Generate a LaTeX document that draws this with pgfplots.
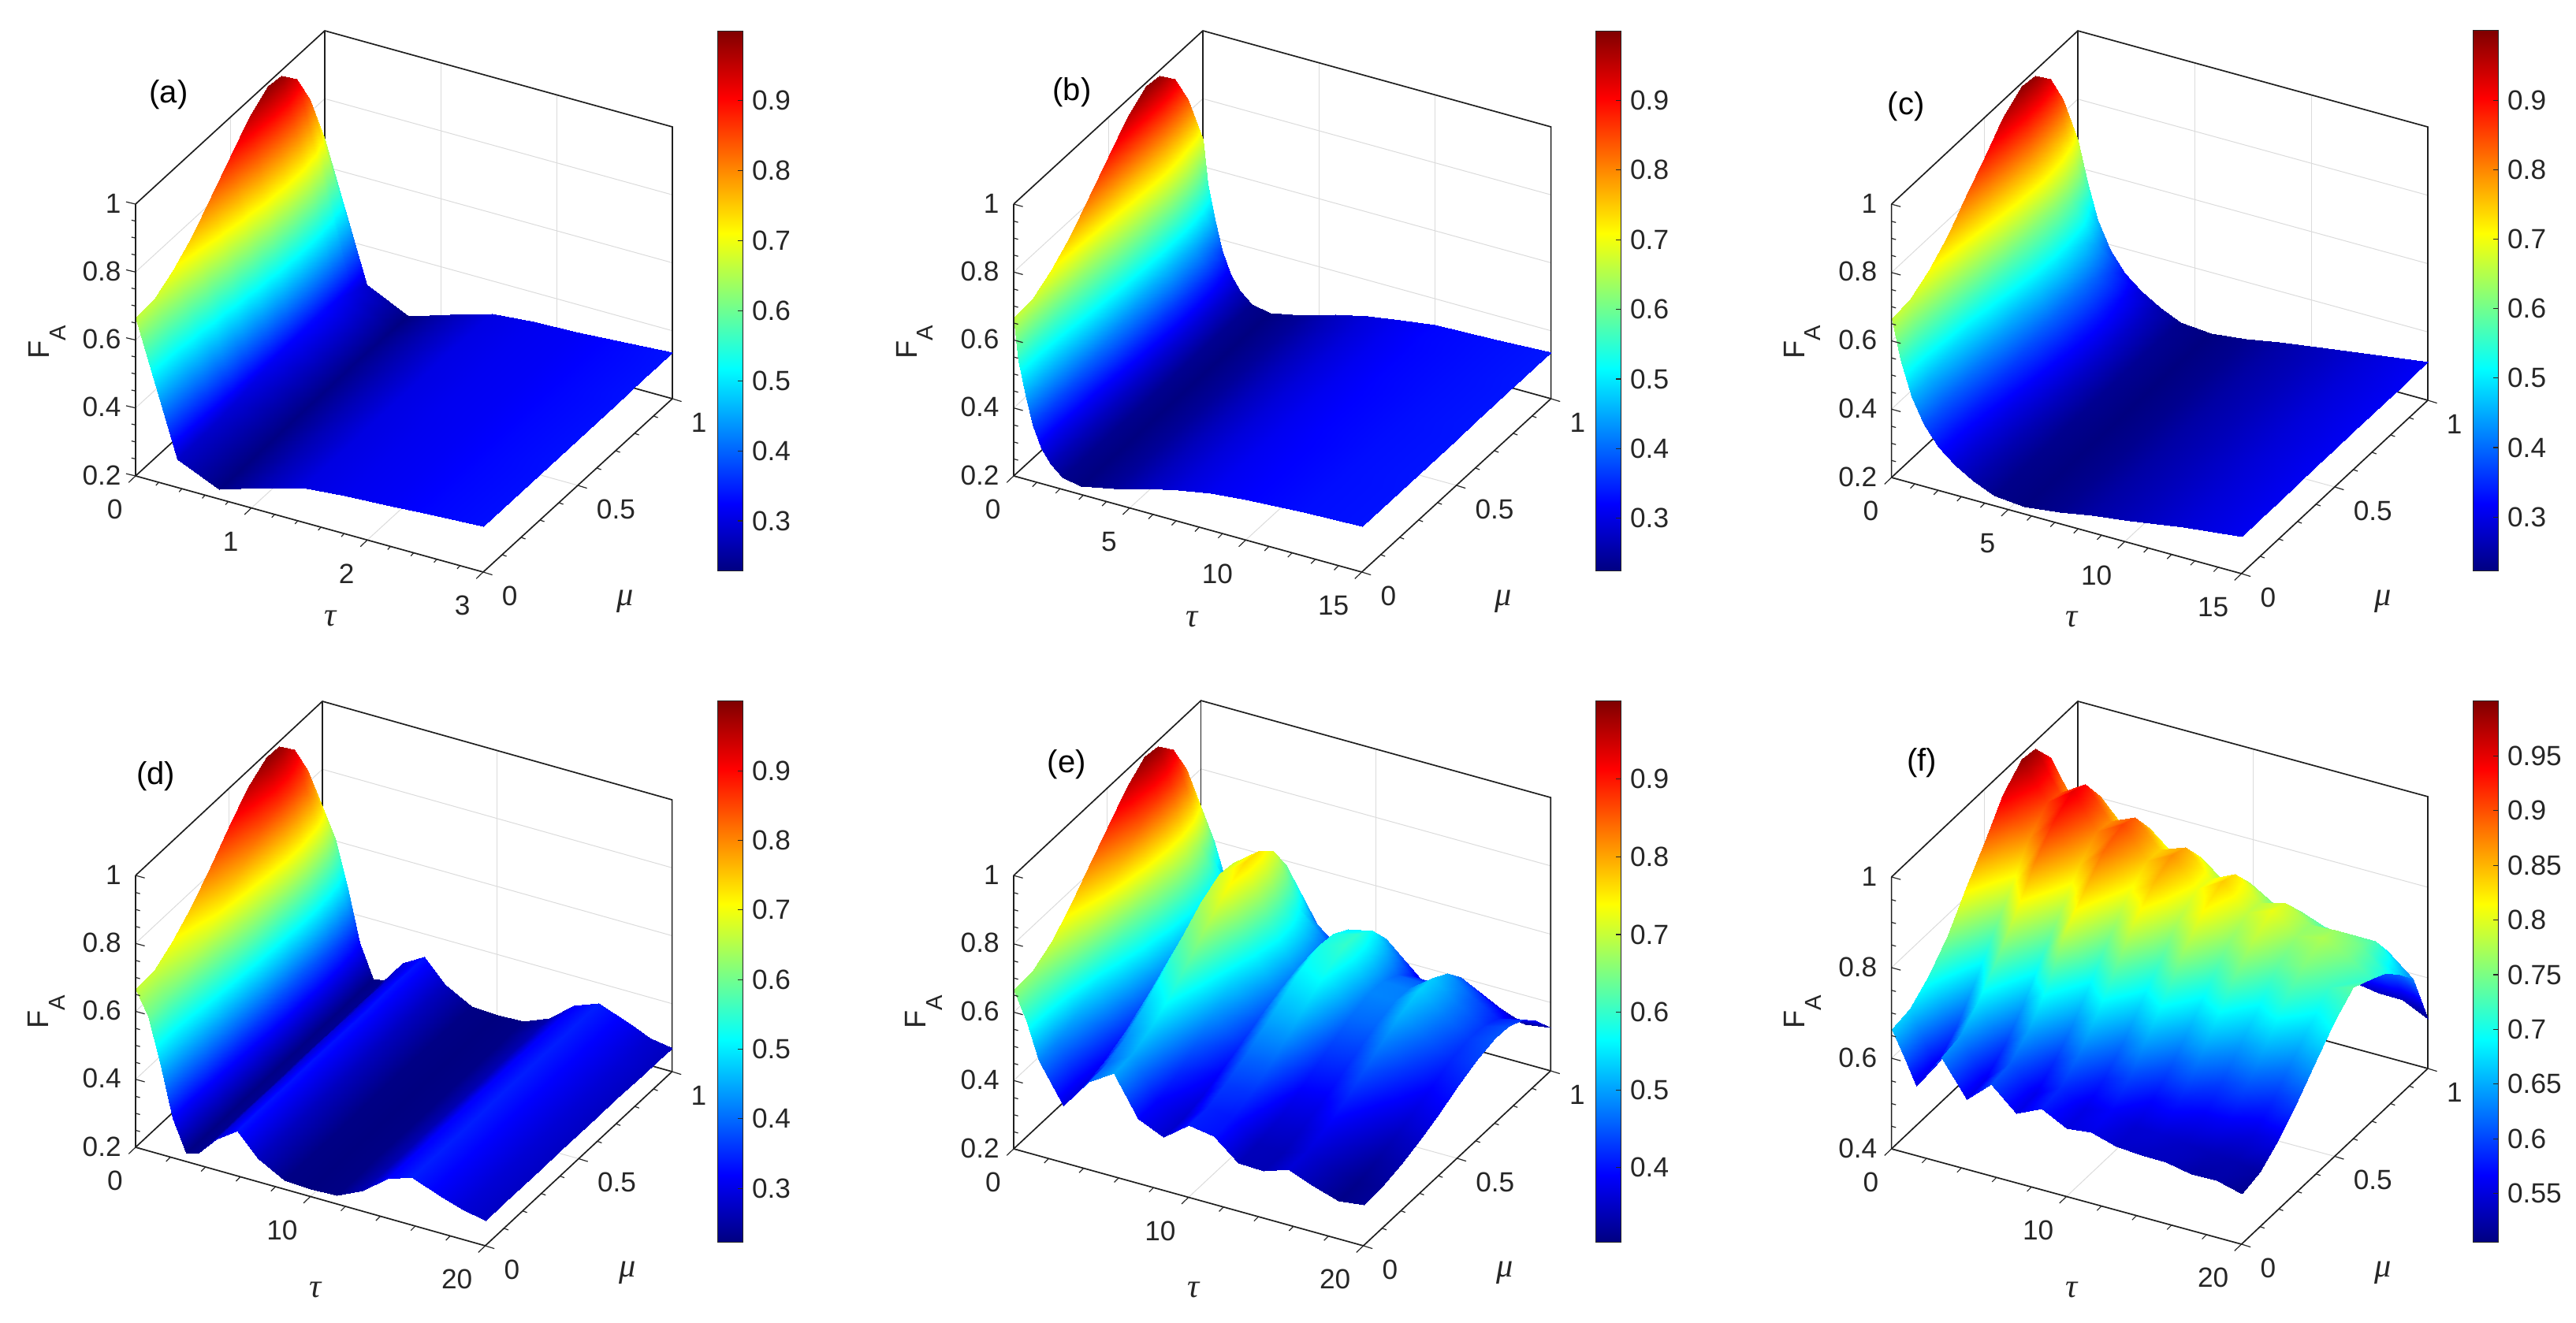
\documentclass[border=0pt]{standalone}
\usepackage{fontspec}
\setmainfont{Liberation Sans}
\newfontfamily\gk{Liberation Serif}
\usepackage{pgfplots}
\pgfplotsset{compat=1.18}
\definecolor{ink}{gray}{0.15}
\newcommand{\tauu}{{\gk\itshape τ}}
\newcommand{\muu}{{\gk\itshape μ}}
\tikzset{tk/.style={ink,line width=0.3pt},bx/.style={black!88,line width=0.42pt}}
% short tick stubs along the box edges, in the directions of the reference
\newcommand{\xt}[3]{\pgfplotsinvokeforeach{#1}{\draw[tk] (axis cs:##1,0,#2) -- ++(#3);}}
\newcommand{\yt}[4]{\pgfplotsinvokeforeach{#1}{\draw[tk] (axis cs:#2,##1,#3) -- ++(#4);}}
\newcommand{\zt}[2]{\pgfplotsinvokeforeach{#1}{\draw[tk] (axis cs:0,0,##1) -- ++(#2);}}
\newcommand{\muticks}[2]{\yt{0,0.5,1}{#1}{#2}{2.9pt,-0.9pt}\yt{0.1,0.2,0.3,0.4,0.6,0.7,0.8,0.9}{#1}{#2}{1.4pt,-0.5pt}}
% box edges: back ones go under the surface, front ones over it
\newcommand{\boxback}[2]{\draw[bx] (axis cs:0,0,1) -- (axis cs:0,1,1) -- (axis cs:#1,1,1) -- (axis cs:#1,1,#2);
  \draw[bx] (axis cs:0,1,1) -- (axis cs:0,1,#2);
  \draw[bx] (axis cs:0,0,#2) -- (axis cs:0,1,#2) -- (axis cs:#1,1,#2);}
\newcommand{\boxfront}[2]{\draw[bx] (axis cs:0,0,1) -- (axis cs:0,0,#2) -- (axis cs:#1,0,#2) -- (axis cs:#1,1,#2);}
\pgfplotsset{
  panel/.style={
    colormap/jet,
    clip=false,
    ymin=0,ymax=1,zmax=1,
    ytick={0,0.5,1},
    grid=major,
    major grid style={black!14,line width=0.25pt},
    tick align=outside,
    xtick pos=lower,ytick pos=lower,ztick pos=lower,
    major tick length=3pt,
    tick style={draw=none},
    axis line style={draw=none},
    /pgf/number format/assume math mode=true,
    tick label style={font=\fontsize{8.8}{10}\selectfont,text=ink,inner sep=0pt},
    xticklabel style={anchor=east,xshift=-1.7pt,yshift=-8.65pt},
    yticklabel style={anchor=west,xshift=2.9pt,yshift=-6.7pt},
    zticklabel style={anchor=east,xshift=-2.2pt,yshift=2.3pt},
    xlabel={\fontsize{10.6}{12}\selectfont\tauu},
    ylabel={\fontsize{10.6}{12}\selectfont\muu},
    zlabel={\fontsize{9.5}{11}\selectfont F\raisebox{-5.2pt}{\fontsize{7.3}{8}\selectfont A}},
    anchor=origin,
  },
  lab/.style n args={6}{
    every axis x label/.style={at={(rel axis cs:0,0,0)},anchor=center,text=ink,xshift=#1pt,yshift=#2pt},
    every axis y label/.style={at={(rel axis cs:0,0,0)},anchor=center,text=ink,xshift=#3pt,yshift=#4pt},
    every axis z label/.style={at={(rel axis cs:0,0,0)},anchor=center,text=ink,rotate=90,xshift=#6pt,yshift=-1*(#5)*1pt},
  },
  cbar/.style={
    colormap/jet,
    scale only axis,
    anchor=south west,
    width=8.2pt,
    view={0}{90},
    xmin=0,xmax=1,
    xtick=\empty,
    ytick pos=right,
    yticklabel pos=right,
    tick align=inside,
    major tick length=1.6pt,
    tick style={ink,line width=0.3pt},
    axis line style={black!85,line width=0.25pt},
    /pgf/number format/assume math mode=true,
    tick label style={font=\fontsize{8.8}{10}\selectfont,text=ink},
    yticklabel style={xshift=-0.7pt},
  },
  surfopt/.style={surf,shader=interp,mesh/ordering=y varies},
  barplot/.style={surf,shader=interp,point meta=y},
}
\begin{document}
\begin{tikzpicture}
\useasboundingbox (0pt,0pt) rectangle (817pt,419.75pt);

% (a)
\begin{axis}[panel,lab={61.75}{-45.25}{155.25}{-39.75}{-28}{42.5},
  at={(43pt,268.75pt)},
  x={(110.25pt/3,-30.5pt/3)},y={(60pt,55pt)},z={(0pt,107.8pt)},
  xmin=0,xmax=3,zmin=0.2,
  xtick={0,1,2,3},ztick={0.2,0.4,0.6,0.8,1},
  point meta min=0.228,point meta max=1]
\boxback{3}{0.2}
\addplot3[surfopt] coordinates {
(0,0,.665)(0,.1,.67)(0,.2,.705)(0,.3,.755)(0,.4,.82)(0,.5,.885)(0,.6,.95)(0,.7,.99)(0,.77,.985)(0,.85,.935)(0,.92,.84)(0,1,.68)

(.36,0,.282)(.36,.1,.284)(.36,.2,.288)(.36,.3,.295)(.36,.4,.305)(.36,.5,.315)(.36,.6,.325)(.36,.7,.33)(.36,.77,.33)(.36,.85,.32)(.36,.92,.305)(.36,1,.287)

(.72,0,.229)(.72,.1,.229)(.72,.2,.23)(.72,.3,.231)(.72,.4,.232)(.72,.5,.233)(.72,.6,.234)(.72,.7,.235)(.72,.77,.235)(.72,.85,.234)(.72,.92,.231)(.72,1,.228)

(1.08,0,.268)(1.08,.1,.268)(1.08,.2,.268)(1.08,.3,.269)(1.08,.4,.269)(1.08,.5,.27)(1.08,.6,.27)(1.08,.7,.27)(1.08,.77,.27)(1.08,.85,.27)(1.08,.92,.269)(1.08,1,.268)

(1.44,0,.302)(1.44,.1,.302)(1.44,.2,.302)(1.44,.3,.302)(1.44,.4,.303)(1.44,.5,.303)(1.44,.6,.303)(1.44,.7,.304)(1.44,.77,.304)(1.44,.85,.304)(1.44,.92,.303)(1.44,1,.303)

(1.8,0,.312)(1.8,.1,.312)(1.8,.2,.312)(1.8,.3,.312)(1.8,.4,.312)(1.8,.5,.313)(1.8,.6,.313)(1.8,.7,.313)(1.8,.77,.313)(1.8,.85,.313)(1.8,.92,.313)(1.8,1,.313)

(2.16,0,.318)(2.16,.1,.318)(2.16,.2,.318)(2.16,.3,.318)(2.16,.4,.318)(2.16,.5,.318)(2.16,.6,.318)(2.16,.7,.318)(2.16,.77,.318)(2.16,.85,.318)(2.16,.92,.318)(2.16,1,.318)

(2.52,0,.327)(2.52,.1,.327)(2.52,.2,.327)(2.52,.3,.327)(2.52,.4,.327)(2.52,.5,.327)(2.52,.6,.327)(2.52,.7,.327)(2.52,.77,.327)(2.52,.85,.327)(2.52,.92,.327)(2.52,1,.327)

(3,0,.334)(3,.1,.334)(3,.2,.334)(3,.3,.334)(3,.4,.335)(3,.5,.335)(3,.6,.335)(3,.7,.335)(3,.77,.336)(3,.85,.336)(3,.92,.336)(3,1,.337)
};
\boxfront{3}{0.2}
\xt{0,1,2,3}{0.2}{-2.2pt,-2.1pt}
\xt{0.2,0.4,0.6,0.8,1.2,1.4,1.6,1.8,2.2,2.4,2.6,2.8}{0.2}{-0.9pt,-1pt}
\muticks{3}{0.2}
\zt{0.2,0.4,0.6,0.8,1}{-3pt,0.7pt}
\zt{0.25,0.3,0.35,0.45,0.5,0.55,0.65,0.7,0.75,0.85,0.9,0.95}{-1.3pt,0.3pt}
\end{axis}
\begin{axis}[cbar,at={(227.5pt,238.5pt)},height=171.5pt,ymin=0.228,ymax=1,
  ytick={0.3,0.4,0.5,0.6,0.7,0.8,0.9},point meta min=0.228,point meta max=1]
\addplot3[barplot] coordinates {(0,.228,0)(1,.228,0)

(0,1,0)(1,1,0)};
\end{axis}

% (b)
\begin{axis}[panel,lab={56.6}{-45.5}{155.2}{-39.75}{-31.4}{42.5},
  at={(321.5pt,268.75pt)},
  x={(110.4pt/15,-30.5pt/15)},y={(60pt,55pt)},z={(0pt,107.8pt)},
  xmin=0,xmax=15,zmin=0.2,
  xtick={0,5,10,15},ztick={0.2,0.4,0.6,0.8,1},
  point meta min=0.224,point meta max=1]
\boxback{15}{0.2}
\addplot3[surfopt] coordinates {
(0,0,.665)(0,.1,.67)(0,.2,.705)(0,.3,.755)(0,.4,.82)(0,.5,.885)(0,.6,.95)(0,.7,.99)(0,.77,.985)(0,.85,.935)(0,.92,.84)(0,1,.68)

(.2,0,.543)(.2,.1,.547)(.2,.2,.572)(.2,.3,.608)(.2,.4,.655)(.2,.5,.702)(.2,.6,.748)(.2,.7,.777)(.2,.77,.774)(.2,.85,.738)(.2,.92,.669)(.2,1,.554)

(.5,0,.448)(.5,.1,.45)(.5,.2,.468)(.5,.3,.493)(.5,.4,.525)(.5,.5,.558)(.5,.6,.59)(.5,.7,.61)(.5,.77,.608)(.5,.85,.583)(.5,.92,.535)(.5,1,.455)

(.8,0,.365)(.8,.1,.366)(.8,.2,.377)(.8,.3,.393)(.8,.4,.413)(.8,.5,.433)(.8,.6,.453)(.8,.7,.466)(.8,.77,.464)(.8,.85,.449)(.8,.92,.419)(.8,1,.37)

(1.2,0,.304)(1.2,.1,.305)(1.2,.2,.311)(1.2,.3,.319)(1.2,.4,.33)(1.2,.5,.341)(1.2,.6,.352)(1.2,.7,.359)(1.2,.77,.358)(1.2,.85,.35)(1.2,.92,.334)(1.2,1,.307)

(1.6,0,.265)(1.6,.1,.265)(1.6,.2,.268)(1.6,.3,.272)(1.6,.4,.277)(1.6,.5,.282)(1.6,.6,.288)(1.6,.7,.291)(1.6,.77,.29)(1.6,.85,.286)(1.6,.92,.279)(1.6,1,.266)

(2.1,0,.234)(2.1,.1,.234)(2.1,.2,.235)(2.1,.3,.235)(2.1,.4,.236)(2.1,.5,.236)(2.1,.6,.237)(2.1,.7,.238)(2.1,.77,.238)(2.1,.85,.237)(2.1,.92,.236)(2.1,1,.234)

(2.9,0,.224)(2.9,.1,.224)(2.9,.2,.224)(2.9,.3,.224)(2.9,.4,.224)(2.9,.5,.224)(2.9,.6,.224)(2.9,.7,.224)(2.9,.77,.224)(2.9,.85,.224)(2.9,.92,.224)(2.9,1,.224)

(4.3,0,.243)(4.3,.1,.243)(4.3,.2,.243)(4.3,.3,.243)(4.3,.4,.243)(4.3,.5,.243)(4.3,.6,.243)(4.3,.7,.243)(4.3,.77,.243)(4.3,.85,.243)(4.3,.92,.243)(4.3,1,.243)

(5.7,0,.27)(5.7,.1,.27)(5.7,.2,.27)(5.7,.3,.27)(5.7,.4,.27)(5.7,.5,.27)(5.7,.6,.27)(5.7,.7,.27)(5.7,.77,.27)(5.7,.85,.27)(5.7,.92,.27)(5.7,1,.272)

(7.1,0,.293)(7.1,.1,.293)(7.1,.2,.293)(7.1,.3,.293)(7.1,.4,.293)(7.1,.5,.293)(7.1,.6,.293)(7.1,.7,.293)(7.1,.77,.293)(7.1,.85,.293)(7.1,.92,.293)(7.1,1,.295)

(8.5,0,.31)(8.5,.1,.31)(8.5,.2,.31)(8.5,.3,.31)(8.5,.4,.31)(8.5,.5,.31)(8.5,.6,.31)(8.5,.7,.31)(8.5,.77,.31)(8.5,.85,.31)(8.5,.92,.31)(8.5,1,.31)

(10,0,.32)(10,.1,.32)(10,.2,.32)(10,.3,.32)(10,.4,.321)(10,.5,.321)(10,.6,.321)(10,.7,.322)(10,.77,.322)(10,.85,.322)(10,.92,.323)(10,1,.323)

(12.5,0,.33)(12.5,.1,.33)(12.5,.2,.33)(12.5,.3,.33)(12.5,.4,.33)(12.5,.5,.33)(12.5,.6,.33)(12.5,.7,.33)(12.5,.77,.33)(12.5,.85,.33)(12.5,.92,.33)(12.5,1,.33)

(15,0,.334)(15,.1,.334)(15,.2,.334)(15,.3,.335)(15,.4,.335)(15,.5,.335)(15,.6,.336)(15,.7,.336)(15,.77,.336)(15,.85,.337)(15,.92,.337)(15,1,.337)
};
\boxfront{15}{0.2}
\xt{0,5,10,15}{0.2}{-2.2pt,-2.1pt}
\xt{1,2,3,4,6,7,8,9,11,12,13,14}{0.2}{-1.4pt,-1.4pt}
\muticks{15}{0.2}
\zt{0.2,0.4,0.6,0.8,1}{2.9pt,-0.8pt}
\zt{0.25,0.3,0.35,0.45,0.5,0.55,0.65,0.7,0.75,0.85,0.9,0.95}{1.4pt,-0.4pt}
\end{axis}
\begin{axis}[cbar,at={(506pt,238.5pt)},height=171.5pt,ymin=0.224,ymax=1,
  ytick={0.3,0.4,0.5,0.6,0.7,0.8,0.9},point meta min=0.224,point meta max=1]
\addplot3[barplot] coordinates {(0,.224,0)(1,.224,0)

(0,1,0)(1,1,0)};
\end{axis}

% (c)
\begin{axis}[panel,lab={57}{-45}{155.8}{-39.25}{-28.3}{43},
  at={(599.9pt,268.25pt)},
  x={(111pt/15,-30.5pt/15)},y={(59.1pt,55pt)},z={(0pt,108.4pt)},
  xmin=0,xmax=15,zmin=0.2,
  xtick={0,5,10,15},ztick={0.2,0.4,0.6,0.8,1},
  point meta min=0.222,point meta max=1]
\boxback{15}{0.2}
\addplot3[surfopt] coordinates {
(0,0,.665)(0,.1,.67)(0,.2,.705)(0,.3,.755)(0,.4,.82)(0,.5,.885)(0,.6,.95)(0,.7,.99)(0,.77,.985)(0,.85,.935)(0,.92,.84)(0,1,.68)

(.4,0,.554)(.4,.1,.558)(.4,.2,.584)(.4,.3,.621)(.4,.4,.67)(.4,.5,.719)(.4,.6,.768)(.4,.7,.798)(.4,.77,.794)(.4,.85,.756)(.4,.92,.685)(.4,1,.565)

(.85,0,.454)(.85,.1,.456)(.85,.2,.475)(.85,.3,.501)(.85,.4,.535)(.85,.5,.569)(.85,.6,.603)(.85,.7,.624)(.85,.77,.622)(.85,.85,.595)(.85,.92,.546)(.85,1,.462)

(1.4,0,.38)(1.4,.1,.382)(1.4,.2,.395)(1.4,.3,.413)(1.4,.4,.436)(1.4,.5,.459)(1.4,.6,.483)(1.4,.7,.497)(1.4,.77,.495)(1.4,.85,.477)(1.4,.92,.443)(1.4,1,.386)

(2,0,.327)(2,.1,.328)(2,.2,.336)(2,.3,.348)(2,.4,.364)(2,.5,.38)(2,.6,.395)(2,.7,.405)(2,.77,.404)(2,.85,.392)(2,.92,.369)(2,1,.33)

(2.7,0,.287)(2.7,.1,.288)(2.7,.2,.293)(2.7,.3,.3)(2.7,.4,.31)(2.7,.5,.32)(2.7,.6,.33)(2.7,.7,.336)(2.7,.77,.335)(2.7,.85,.327)(2.7,.92,.313)(2.7,1,.289)

(3.5,0,.256)(3.5,.1,.256)(3.5,.2,.259)(3.5,.3,.263)(3.5,.4,.268)(3.5,.5,.273)(3.5,.6,.278)(3.5,.7,.282)(3.5,.77,.281)(3.5,.85,.277)(3.5,.92,.27)(3.5,1,.257)

(4.4,0,.23)(4.4,.1,.23)(4.4,.2,.231)(4.4,.3,.232)(4.4,.4,.233)(4.4,.5,.235)(4.4,.6,.236)(4.4,.7,.237)(4.4,.77,.237)(4.4,.85,.236)(4.4,.92,.234)(4.4,1,.23)

(5.7,0,.222)(5.7,.1,.222)(5.7,.2,.222)(5.7,.3,.222)(5.7,.4,.222)(5.7,.5,.222)(5.7,.6,.222)(5.7,.7,.222)(5.7,.77,.222)(5.7,.85,.222)(5.7,.92,.222)(5.7,1,.222)

(7.2,0,.233)(7.2,.1,.233)(7.2,.2,.233)(7.2,.3,.233)(7.2,.4,.233)(7.2,.5,.233)(7.2,.6,.233)(7.2,.7,.233)(7.2,.77,.233)(7.2,.85,.233)(7.2,.92,.233)(7.2,1,.233)

(8.6,0,.25)(8.6,.1,.25)(8.6,.2,.25)(8.6,.3,.25)(8.6,.4,.25)(8.6,.5,.25)(8.6,.6,.25)(8.6,.7,.25)(8.6,.77,.25)(8.6,.85,.25)(8.6,.92,.25)(8.6,1,.25)

(10.2,0,.265)(10.2,.1,.265)(10.2,.2,.265)(10.2,.3,.265)(10.2,.4,.265)(10.2,.5,.265)(10.2,.6,.265)(10.2,.7,.265)(10.2,.77,.265)(10.2,.85,.265)(10.2,.92,.265)(10.2,1,.267)

(12.5,0,.288)(12.5,.1,.288)(12.5,.2,.288)(12.5,.3,.288)(12.5,.4,.289)(12.5,.5,.289)(12.5,.6,.29)(12.5,.7,.29)(12.5,.77,.29)(12.5,.85,.29)(12.5,.92,.29)(12.5,1,.29)

(15,0,.309)(15,.1,.309)(15,.2,.309)(15,.3,.31)(15,.4,.31)(15,.5,.31)(15,.6,.31)(15,.7,.311)(15,.77,.311)(15,.85,.311)(15,.92,.312)(15,1,.312)
};
\boxfront{15}{0.2}
\xt{0,5,10,15}{0.2}{-2.2pt,-2.1pt}
\xt{1,2,3,4,6,7,8,9,11,12,13,14}{0.2}{-1.4pt,-1.4pt}
\muticks{15}{0.2}
\zt{0.2,0.4,0.6,0.8,1}{2.9pt,-0.8pt}
\zt{0.25,0.3,0.35,0.45,0.5,0.55,0.65,0.7,0.75,0.85,0.9,0.95}{1.4pt,-0.4pt}
\end{axis}
\begin{axis}[cbar,at={(784.25pt,238.5pt)},height=171.5pt,ymin=0.222,ymax=1,
  ytick={0.3,0.4,0.5,0.6,0.7,0.8,0.9},point meta min=0.222,point meta max=1]
\addplot3[barplot] coordinates {(0,.222,0)(1,.222,0)

(0,1,0)(1,1,0)};
\end{axis}

% (d)
\begin{axis}[panel,lab={57.1}{-45.25}{156}{-39.75}{-28.2}{43},
  at={(43pt,55.75pt)},
  x={(110.9pt/20,-31.25pt/20)},y={(59.25pt,55.25pt)},z={(0pt,107.8pt)},
  xmin=0,xmax=20,zmin=0.2,
  xtick={0,10,20},xticklabels={0,10,20},ztick={0.2,0.4,0.6,0.8,1},
  point meta min=0.222,point meta max=1]
\boxback{20}{0.2}
\addplot3[surfopt] coordinates {
(0,0,.665)(0,.1,.67)(0,.2,.705)(0,.3,.755)(0,.4,.82)(0,.5,.885)(0,.6,.95)(0,.7,.99)(0,.77,.985)(0,.85,.935)(0,.92,.84)(0,1,.69)

(.7,0,.595)(.7,.1,.599)(.7,.2,.628)(.7,.3,.67)(.7,.4,.725)(.7,.5,.779)(.7,.6,.834)(.7,.7,.868)(.7,.77,.863)(.7,.85,.821)(.7,.92,.742)(.7,1,.607)

(1.4,0,.471)(1.4,.1,.474)(1.4,.2,.494)(1.4,.3,.522)(1.4,.4,.558)(1.4,.5,.595)(1.4,.6,.631)(1.4,.7,.653)(1.4,.77,.651)(1.4,.85,.623)(1.4,.92,.569)(1.4,1,.48)

(2.1,0,.317)(2.1,.1,.318)(2.1,.2,.326)(2.1,.3,.336)(2.1,.4,.35)(2.1,.5,.364)(2.1,.6,.377)(2.1,.7,.386)(2.1,.77,.385)(2.1,.85,.374)(2.1,.92,.354)(2.1,1,.321)

(2.9,0,.226)(2.9,.1,.226)(2.9,.2,.226)(2.9,.3,.226)(2.9,.4,.226)(2.9,.5,.226)(2.9,.6,.226)(2.9,.7,.226)(2.9,.77,.226)(2.9,.85,.226)(2.9,.92,.226)(2.9,1,.226)

(3.6,0,.235)(3.6,.1,.235)(3.6,.2,.235)(3.6,.3,.235)(3.6,.4,.235)(3.6,.5,.235)(3.6,.6,.235)(3.6,.7,.235)(3.6,.77,.235)(3.6,.85,.235)(3.6,.92,.235)(3.6,1,.232)

(4.6,0,.29)(4.6,.1,.29)(4.6,.2,.29)(4.6,.3,.29)(4.6,.4,.29)(4.6,.5,.29)(4.6,.6,.29)(4.6,.7,.29)(4.6,.77,.29)(4.6,.85,.29)(4.6,.92,.29)(4.6,1,.296)

(5.8,0,.332)(5.8,.1,.332)(5.8,.2,.332)(5.8,.3,.332)(5.8,.4,.332)(5.8,.5,.332)(5.8,.6,.332)(5.8,.7,.332)(5.8,.77,.332)(5.8,.85,.332)(5.8,.92,.332)(5.8,1,.332)

(7,0,.27)(7,.1,.27)(7,.2,.27)(7,.3,.27)(7,.4,.27)(7,.5,.27)(7,.6,.27)(7,.7,.27)(7,.77,.27)(7,.85,.27)(7,.92,.27)(7,1,.27)

(8.5,0,.226)(8.5,.1,.226)(8.5,.2,.226)(8.5,.3,.226)(8.5,.4,.226)(8.5,.5,.226)(8.5,.6,.226)(8.5,.7,.226)(8.5,.77,.226)(8.5,.85,.226)(8.5,.92,.226)(8.5,1,.226)

(10,0,.222)(10,.1,.222)(10,.2,.222)(10,.3,.222)(10,.4,.222)(10,.5,.222)(10,.6,.222)(10,.7,.222)(10,.77,.222)(10,.85,.222)(10,.92,.222)(10,1,.222)

(11.5,0,.226)(11.5,.1,.226)(11.5,.2,.226)(11.5,.3,.226)(11.5,.4,.226)(11.5,.5,.226)(11.5,.6,.226)(11.5,.7,.226)(11.5,.77,.226)(11.5,.85,.226)(11.5,.92,.226)(11.5,1,.226)

(13,0,.26)(13,.1,.26)(13,.2,.26)(13,.3,.26)(13,.4,.26)(13,.5,.26)(13,.6,.26)(13,.7,.26)(13,.77,.26)(13,.85,.26)(13,.92,.26)(13,1,.256)

(14.4,0,.316)(14.4,.1,.316)(14.4,.2,.316)(14.4,.3,.316)(14.4,.4,.316)(14.4,.5,.316)(14.4,.6,.316)(14.4,.7,.316)(14.4,.77,.316)(14.4,.85,.316)(14.4,.92,.316)(14.4,1,.314)

(15.8,0,.341)(15.8,.1,.341)(15.8,.2,.341)(15.8,.3,.341)(15.8,.4,.341)(15.8,.5,.341)(15.8,.6,.341)(15.8,.7,.341)(15.8,.77,.341)(15.8,.85,.341)(15.8,.92,.341)(15.8,1,.341)

(17.6,0,.307)(17.6,.1,.307)(17.6,.2,.307)(17.6,.3,.307)(17.6,.4,.307)(17.6,.5,.307)(17.6,.6,.307)(17.6,.7,.307)(17.6,.77,.307)(17.6,.85,.307)(17.6,.92,.307)(17.6,1,.307)

(18.7,0,.287)(18.7,.1,.287)(18.7,.2,.287)(18.7,.3,.287)(18.7,.4,.287)(18.7,.5,.287)(18.7,.6,.287)(18.7,.7,.287)(18.7,.77,.287)(18.7,.85,.287)(18.7,.92,.285)(18.7,1,.282)

(20,0,.274)(20,.1,.274)(20,.2,.274)(20,.3,.274)(20,.4,.273)(20,.5,.273)(20,.6,.272)(20,.7,.272)(20,.77,.271)(20,.85,.271)(20,.92,.27)(20,1,.269)
};
\boxfront{20}{0.2}
\xt{0,10,20}{0.2}{-2.2pt,-2.1pt}
\xt{2,4,6,8,12,14,16,18}{0.2}{-1.4pt,-1.4pt}
\muticks{20}{0.2}
\zt{0.2,0.4,0.6,0.8,1}{2.9pt,-0.8pt}
\zt{0.25,0.3,0.35,0.45,0.5,0.55,0.65,0.7,0.75,0.85,0.9,0.95}{1.4pt,-0.4pt}
\end{axis}
\begin{axis}[cbar,at={(227.5pt,25.5pt)},height=171.75pt,ymin=0.222,ymax=1,
  ytick={0.3,0.4,0.5,0.6,0.7,0.8,0.9},point meta min=0.222,point meta max=1]
\addplot3[barplot] coordinates {(0,.222,0)(1,.222,0)

(0,1,0)(1,1,0)};
\end{axis}

% (e)
\begin{axis}[panel,lab={57.1}{-44.75}{155.7}{-39.25}{-28.5}{43.5},
  at={(321.5pt,55.25pt)},
  x={(110.9pt/20,-30.75pt/20)},y={(59.4pt,55.5pt)},z={(0pt,108.4pt)},
  xmin=0,xmax=20,zmin=0.2,
  xtick={0,10,20},xticklabels={0,10,20},ztick={0.2,0.4,0.6,0.8,1},
  point meta min=0.3035,point meta max=1]
\boxback{20}{0.2}
\addplot3[surfopt] coordinates {
(0,0,.665)(0,.1,.67)(0,.2,.705)(0,.3,.755)(0,.4,.82)(0,.5,.885)(0,.6,.95)(0,.7,.99)(0,.77,.985)(0,.85,.935)(0,.92,.84)(0,1,.68)

(.72,0,.585)(.72,.1,.59)(.72,.2,.621)(.72,.3,.669)(.72,.4,.729)(.72,.5,.789)(.72,.6,.849)(.72,.7,.885)(.72,.77,.881)(.72,.85,.834)(.72,.92,.747)(.72,1,.6)

(1.43,0,.478)(1.43,.1,.482)(1.43,.2,.507)(1.43,.3,.545)(1.43,.4,.593)(1.43,.5,.641)(1.43,.6,.689)(1.43,.7,.718)(1.43,.77,.714)(1.43,.85,.677)(1.43,.92,.608)(1.43,1,.49)

(2.86,0,.368)(2.86,.1,.37)(2.86,.2,.386)(2.86,.3,.41)(2.86,.4,.44)(2.86,.5,.47)(2.86,.6,.5)(2.86,.7,.518)(2.86,.77,.516)(2.86,.85,.493)(2.86,.92,.449)(2.86,1,.376)

(4.29,0,.458)(4.29,.1,.462)(4.29,.2,.488)(4.29,.3,.528)(4.29,.4,.578)(4.29,.5,.628)(4.29,.6,.678)(4.29,.7,.708)(4.29,.77,.704)(4.29,.85,.666)(4.29,.92,.593)(4.29,1,.47)

(5.71,0,.502)(5.71,.1,.506)(5.71,.2,.533)(5.71,.3,.575)(5.71,.4,.627)(5.71,.5,.679)(5.71,.6,.731)(5.71,.7,.762)(5.71,.77,.758)(5.71,.85,.718)(5.71,.92,.642)(5.71,1,.515)

(7.14,0,.388)(7.14,.1,.391)(7.14,.2,.414)(7.14,.3,.45)(7.14,.4,.494)(7.14,.5,.538)(7.14,.6,.582)(7.14,.7,.608)(7.14,.77,.605)(7.14,.85,.571)(7.14,.92,.507)(7.14,1,.399)

(8.57,0,.355)(8.57,.1,.357)(8.57,.2,.371)(8.57,.3,.391)(8.57,.4,.417)(8.57,.5,.443)(8.57,.6,.469)(8.57,.7,.485)(8.57,.77,.483)(8.57,.85,.463)(8.57,.92,.425)(8.57,1,.362)

(10,0,.41)(10,.1,.413)(10,.2,.43)(10,.3,.458)(10,.4,.492)(10,.5,.526)(10,.6,.56)(10,.7,.58)(10,.77,.577)(10,.85,.551)(10,.92,.502)(10,1,.419)

(11.43,0,.4)(11.43,.1,.403)(11.43,.2,.424)(11.43,.3,.456)(11.43,.4,.496)(11.43,.5,.536)(11.43,.6,.576)(11.43,.7,.6)(11.43,.77,.597)(11.43,.85,.566)(11.43,.92,.508)(11.43,1,.41)

(12.86,0,.342)(12.86,.1,.344)(12.86,.2,.359)(12.86,.3,.381)(12.86,.4,.409)(12.86,.5,.437)(12.86,.6,.465)(12.86,.7,.482)(12.86,.77,.48)(12.86,.85,.458)(12.86,.92,.418)(12.86,1,.349)

(14.29,0,.339)(14.29,.1,.341)(14.29,.2,.356)(14.29,.3,.378)(14.29,.4,.406)(14.29,.5,.434)(14.29,.6,.462)(14.29,.7,.479)(14.29,.77,.477)(14.29,.85,.455)(14.29,.92,.415)(14.29,1,.346)

(15.71,0,.362)(15.71,.1,.365)(15.71,.2,.382)(15.71,.3,.41)(15.71,.4,.444)(15.71,.5,.478)(15.71,.6,.512)(15.71,.7,.532)(15.71,.77,.529)(15.71,.85,.503)(15.71,.92,.454)(15.71,1,.371)

(17.14,0,.335)(17.14,.1,.337)(17.14,.2,.352)(17.14,.3,.374)(17.14,.4,.402)(17.14,.5,.43)(17.14,.6,.458)(17.14,.7,.475)(17.14,.77,.473)(17.14,.85,.451)(17.14,.92,.411)(17.14,1,.342)

(18.57,0,.31)(18.57,.1,.312)(18.57,.2,.324)(18.57,.3,.344)(18.57,.4,.368)(18.57,.5,.392)(18.57,.6,.416)(18.57,.7,.43)(18.57,.77,.428)(18.57,.85,.41)(18.57,.92,.375)(18.57,1,.316)

(20,0,.319)(20,.1,.321)(20,.2,.335)(20,.3,.355)(20,.4,.381)(20,.5,.407)(20,.6,.433)(20,.7,.449)(20,.77,.447)(20,.85,.427)(20,.92,.389)(20,1,.326)
};
\boxfront{20}{0.2}
\xt{0,10,20}{0.2}{-2.2pt,-2.1pt}
\xt{2,4,6,8,12,14,16,18}{0.2}{-1.4pt,-1.4pt}
\muticks{20}{0.2}
\zt{0.2,0.4,0.6,0.8,1}{2.9pt,-0.8pt}
\zt{0.25,0.3,0.35,0.45,0.5,0.55,0.65,0.7,0.75,0.85,0.9,0.95}{1.4pt,-0.4pt}
\end{axis}
\begin{axis}[cbar,at={(506pt,25.5pt)},height=171.75pt,ymin=0.3035,ymax=1,
  ytick={0.4,0.5,0.6,0.7,0.8,0.9},point meta min=0.3035,point meta max=1]
\addplot3[barplot] coordinates {(0,.3035,0)(1,.3035,0)

(0,1,0)(1,1,0)};
\end{axis}

% (f)
\begin{axis}[panel,lab={57.1}{-44.75}{155.85}{-39.25}{-28.25}{43.5},
  at={(599.9pt,55.25pt)},
  x={(111pt/20,-30.25pt/20)},y={(59.1pt,55.75pt)},z={(0pt,143.75pt)},
  xmin=0,xmax=20,zmin=0.4,
  xtick={0,10,20},xticklabels={0,10,20},ztick={0.4,0.6,0.8,1},
  point meta min=0.505,point meta max=1]
\boxback{20}{0.4}
\addplot3[surfopt] coordinates {
(0,0,.665)(0,.1,.67)(0,.2,.705)(0,.3,.755)(0,.4,.82)(0,.5,.885)(0,.6,.95)(0,.7,.99)(0,.77,.985)(0,.85,.935)(0,.92,.84)(0,1,.68)

(.72,0,.61)(.72,.1,.615)(.72,.2,.65)(.72,.3,.704)(.72,.4,.771)(.72,.5,.838)(.72,.6,.905)(.72,.7,.945)(.72,.77,.94)(.72,.85,.888)(.72,.92,.791)(.72,1,.627)

(1.43,0,.554)(1.43,.1,.559)(1.43,.2,.596)(1.43,.3,.653)(1.43,.4,.724)(1.43,.5,.795)(1.43,.6,.866)(1.43,.7,.908)(1.43,.77,.903)(1.43,.85,.848)(1.43,.92,.745)(1.43,1,.572)

(2.86,0,.631)(2.86,.1,.641)(2.86,.2,.679)(2.86,.3,.736)(2.86,.4,.8)(2.86,.5,.87)(2.86,.6,.921)(2.86,.7,.95)(2.86,.77,.937)(2.86,.85,.88)(2.86,.92,.79)(2.86,1,.647)

(4.29,0,.555)(4.29,.1,.56)(4.29,.2,.593)(4.29,.3,.645)(4.29,.4,.709)(4.29,.5,.773)(4.29,.6,.837)(4.29,.7,.875)(4.29,.77,.87)(4.29,.85,.821)(4.29,.92,.728)(4.29,1,.571)

(5.71,0,.602)(5.71,.1,.611)(5.71,.2,.647)(5.71,.3,.702)(5.71,.4,.79)(5.71,.5,.84)(5.71,.6,.885)(5.71,.7,.905)(5.71,.77,.893)(5.71,.85,.838)(5.71,.92,.754)(5.71,1,.617)

(7.14,0,.554)(7.14,.1,.558)(7.14,.2,.588)(7.14,.3,.634)(7.14,.4,.692)(7.14,.5,.749)(7.14,.6,.807)(7.14,.7,.841)(7.14,.77,.837)(7.14,.85,.792)(7.14,.92,.709)(7.14,1,.568)

(8.57,0,.578)(8.57,.1,.587)(8.57,.2,.622)(8.57,.3,.674)(8.57,.4,.735)(8.57,.5,.8)(8.57,.6,.845)(8.57,.7,.868)(8.57,.77,.857)(8.57,.85,.805)(8.57,.92,.723)(8.57,1,.593)

(10,0,.551)(10,.1,.555)(10,.2,.582)(10,.3,.623)(10,.4,.674)(10,.5,.725)(10,.6,.776)(10,.7,.807)(10,.77,.803)(10,.85,.763)(10,.92,.689)(10,1,.564)

(11.43,0,.556)(11.43,.1,.565)(11.43,.2,.599)(11.43,.3,.65)(11.43,.4,.707)(11.43,.5,.769)(11.43,.6,.814)(11.43,.7,.84)(11.43,.77,.829)(11.43,.85,.778)(11.43,.92,.698)(11.43,1,.57)

(12.86,0,.541)(12.86,.1,.545)(12.86,.2,.57)(12.86,.3,.609)(12.86,.4,.658)(12.86,.5,.707)(12.86,.6,.756)(12.86,.7,.785)(12.86,.77,.781)(12.86,.85,.744)(12.86,.92,.673)(12.86,1,.553)

(14.29,0,.537)(14.29,.1,.545)(14.29,.2,.577)(14.29,.3,.625)(14.29,.4,.679)(14.29,.5,.738)(14.29,.6,.781)(14.29,.7,.805)(14.29,.77,.794)(14.29,.85,.746)(14.29,.92,.671)(14.29,1,.55)

(15.71,0,.535)(15.71,.1,.538)(15.71,.2,.563)(15.71,.3,.599)(15.71,.4,.645)(15.71,.5,.691)(15.71,.6,.737)(15.71,.7,.765)(15.71,.77,.762)(15.71,.85,.726)(15.71,.92,.659)(15.71,1,.547)

(17.14,0,.524)(17.14,.1,.532)(17.14,.2,.562)(17.14,.3,.607)(17.14,.4,.657)(17.14,.5,.712)(17.14,.6,.752)(17.14,.7,.775)(17.14,.77,.765)(17.14,.85,.72)(17.14,.92,.65)(17.14,1,.537)

(18.57,0,.525)(18.57,.1,.528)(18.57,.2,.551)(18.57,.3,.587)(18.57,.4,.631)(18.57,.5,.675)(18.57,.6,.719)(18.57,.7,.75)(18.57,.77,.745)(18.57,.85,.725)(18.57,.92,.675)(18.57,1,.536)

(20,0,.512)(20,.1,.522)(20,.2,.556)(20,.3,.602)(20,.4,.65)(20,.5,.7)(20,.6,.735)(20,.7,.715)(20,.77,.7)(20,.85,.665)(20,.92,.63)(20,1,.51)
};
\boxfront{20}{0.4}
\xt{0,10,20}{0.4}{-2.2pt,-2.1pt}
\xt{2,4,6,8,12,14,16,18}{0.4}{-1.4pt,-1.4pt}
\muticks{20}{0.4}
\zt{0.4,0.6,0.8,1}{2.9pt,-0.8pt}
\zt{0.45,0.5,0.55,0.65,0.7,0.75,0.85,0.9,0.95}{1.4pt,-0.4pt}
\end{axis}
\begin{axis}[cbar,at={(784.25pt,25.5pt)},height=171.75pt,ymin=0.505,ymax=1,
  ytick={0.55,0.6,0.65,0.7,0.75,0.8,0.85,0.9,0.95},point meta min=0.505,point meta max=1]
\addplot3[barplot] coordinates {(0,.505,0)(1,.505,0)

(0,1,0)(1,1,0)};
\end{axis}

\foreach \px/\py/\tx in {53.5/389.6/a,340/390.5/b,604.5/386/c,49.4/173.4/d,338.3/177.2/e,609.5/177.7/f}
  \node[font=\fontsize{10}{12}\selectfont,text=black] at (\px pt,\py pt) {(\tx)};
\end{tikzpicture}
\end{document}
